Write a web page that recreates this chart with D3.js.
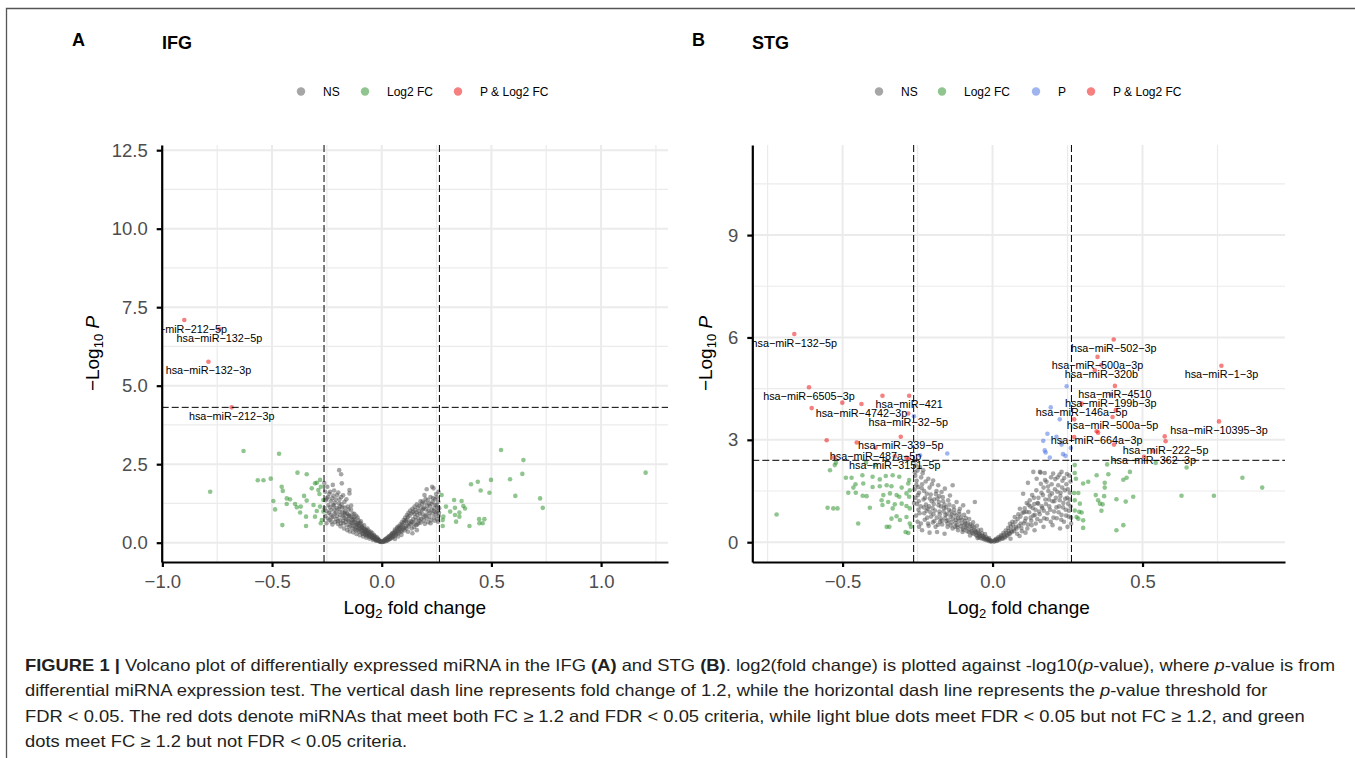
<!DOCTYPE html>
<html><head><meta charset="utf-8">
<script src="https://cdn.jsdelivr.net/npm/d3@7"></script>
<style>body{margin:0;background:#fff}svg{display:block}text{font-family:"Liberation Sans",Arial,sans-serif}</style>
</head><body><svg id="fig" width="1355" height="758"></svg>
<script>
// ---------------- DATA ----------------
const fcCut = 0.263;          // log2(1.2)
const ifgPCut = 4.31;
const stgPCut = 2.40;
const ifgXTicks = [-1.0, -0.5, 0.0, 0.5, 1.0];
const ifgYTicks = [0, 2.5, 5, 7.5, 10, 12.5];
const stgXTicks = [-0.5, 0.0, 0.5];
const stgYTicks = [0, 3, 6, 9];
const ifgLegend = ["NS", "Log2 FC", "P & Log2 FC"];
const stgLegend = ["NS", "Log2 FC", "P", "P & Log2 FC"];

// IFG
const ifgNS = [[-0.262,1.90],[-0.258,1.62],[-0.255,1.35],[-0.260,1.10],[-0.257,0.85],[-0.252,0.62],[-0.248,1.78],[-0.245,1.45],[-0.243,1.20],[-0.240,0.95],[-0.238,0.72],[-0.235,1.62],[-0.232,1.32],[-0.230,1.05],[-0.228,0.80],[-0.225,0.58],[-0.223,1.84],[-0.220,1.50],[-0.218,1.18],[-0.215,0.92],[-0.212,0.66],[-0.210,1.38],[-0.205,1.10],[-0.203,0.84],[-0.200,0.60],[-0.194,2.31],[-0.185,2.18],[-0.182,1.89],[-0.198,1.60],[-0.195,1.25],[-0.192,0.98],[-0.190,0.72],[-0.188,0.52],[-0.185,1.45],[-0.180,1.12],[-0.178,0.85],[-0.175,0.62],[-0.172,0.45],[-0.170,1.30],[-0.166,1.00],[-0.163,0.76],[-0.160,0.56],[-0.157,0.40],[-0.147,1.68],[-0.147,1.57],[-0.155,1.15],[-0.152,0.90],[-0.150,0.68],[-0.148,0.50],[-0.145,0.36],[-0.140,1.05],[-0.137,0.82],[-0.135,0.62],[-0.132,0.46],[-0.130,0.33],[-0.125,0.92],[-0.122,0.72],[-0.120,0.55],[-0.117,0.40],[-0.115,0.28],[-0.110,0.80],[-0.107,0.62],[-0.105,0.47],[-0.102,0.35],[-0.100,0.24],[-0.095,0.68],[-0.092,0.52],[-0.090,0.40],[-0.087,0.30],[-0.085,0.20],[-0.080,0.55],[-0.077,0.43],[-0.075,0.33],[-0.072,0.24],[-0.070,0.16],[-0.065,0.45],[-0.062,0.34],[-0.060,0.26],[-0.057,0.19],[-0.055,0.13],[-0.050,0.35],[-0.047,0.26],[-0.045,0.19],[-0.042,0.14],[-0.040,0.09],[-0.035,0.24],[-0.032,0.17],[-0.030,0.12],[-0.027,0.08],[-0.025,0.06],[-0.020,0.13],[-0.017,0.09],[-0.015,0.06],[-0.010,0.05],[-0.007,0.03],[-0.003,0.02],[-0.215,1.05],[-0.168,0.90],[-0.128,0.66],[-0.098,0.45],[-0.068,0.28],[-0.038,0.15],[-0.250,1.00],[-0.233,0.90],[-0.207,0.75],[-0.176,0.70],[-0.143,0.55],[-0.113,0.50],[-0.083,0.37],[-0.053,0.22],[-0.022,0.10],
[-0.251,1.41],[-0.246,0.77],[-0.239,1.56],[-0.236,1.13],[-0.229,0.67],[-0.226,1.41],[-0.221,0.83],[-0.217,1.66],[-0.213,1.27],[-0.208,0.96],[-0.204,1.52],[-0.199,0.69],[-0.196,1.08],[-0.193,1.37],[-0.189,0.87],[-0.186,0.61],[-0.183,1.22],[-0.179,0.98],[-0.176,1.51],[-0.171,0.79],[-0.169,1.12],[-0.164,0.66],[-0.161,1.38],[-0.158,0.93],[-0.154,0.74],[-0.151,1.06],[-0.146,0.84],[-0.142,0.64],[-0.139,1.18],[-0.136,0.73],[-0.133,0.93],[-0.129,0.53],[-0.126,0.81],[-0.123,0.43],[-0.119,0.64],[-0.116,0.86],[-0.112,0.57],[-0.109,0.41],[-0.106,0.71],[-0.103,0.53],[-0.099,0.63],[-0.096,0.37],[-0.093,0.59],[-0.089,0.47],[-0.086,0.28],[-0.082,0.46],[-0.079,0.36],[-0.076,0.27],[-0.073,0.41],[-0.069,0.34],[-0.066,0.22],[-0.063,0.30],[-0.059,0.38],[-0.056,0.24],[-0.052,0.29],[-0.049,0.18],[-0.046,0.23],[-0.043,0.31],[-0.039,0.20],[-0.036,0.13],[-0.033,0.21],[-0.029,0.15],[-0.026,0.10],[-0.023,0.18],[-0.019,0.07],[-0.016,0.12],[-0.012,0.08],[-0.009,0.04],[-0.005,0.05],[-0.222,1.20],[-0.190,1.15],[-0.170,0.95],[-0.150,0.85],[-0.130,0.75],[-0.110,0.60],[-0.090,0.50],[-0.070,0.40],[-0.060,0.30],
[0.003,0.02],[0.008,0.04],[0.012,0.07],[0.017,0.10],[0.020,0.05],[0.025,0.14],[0.028,0.08],[0.032,0.18],[0.035,0.11],[0.040,0.22],[0.043,0.14],[0.047,0.28],[0.050,0.17],[0.055,0.33],[0.058,0.21],[0.062,0.38],[0.065,0.25],[0.070,0.45],[0.073,0.29],[0.077,0.52],[0.080,0.33],[0.085,0.58],[0.088,0.38],[0.092,0.65],[0.095,0.42],[0.100,0.72],[0.103,0.47],[0.107,0.80],[0.110,0.52],[0.115,0.88],[0.118,0.58],[0.122,0.95],[0.125,0.63],[0.130,1.02],[0.133,0.68],[0.137,0.45],[0.140,1.08],[0.143,0.75],[0.147,0.50],[0.150,1.15],[0.153,0.82],[0.157,0.56],[0.160,1.22],[0.163,0.88],[0.167,0.62],[0.170,1.00],[0.173,0.70],[0.177,1.32],[0.180,0.76],[0.183,1.05],[0.187,1.31],[0.190,0.82],[0.193,1.12],[0.197,0.60],[0.200,1.40],[0.203,0.90],[0.205,1.70],[0.208,1.18],[0.212,0.65],[0.215,1.25],[0.218,0.95],[0.222,1.45],[0.225,0.72],[0.228,1.05],[0.232,1.30],[0.236,1.73],[0.238,0.80],[0.240,1.10],[0.243,1.38],[0.246,0.90],[0.248,1.55],[0.250,1.20],[0.253,0.75],[0.255,1.00],[0.258,1.30],[0.260,0.85],[0.262,1.10],[0.230,1.78],[0.195,1.52],[0.160,0.40],[0.120,0.35],[0.090,0.25],[0.060,0.12],[0.140,0.30],[0.110,0.68],[0.075,0.20],
[0.006,0.05],[0.010,0.03],[0.014,0.09],[0.019,0.12],[0.023,0.07],[0.027,0.16],[0.030,0.11],[0.034,0.21],[0.038,0.13],[0.042,0.25],[0.045,0.19],[0.049,0.31],[0.053,0.22],[0.057,0.29],[0.060,0.42],[0.064,0.31],[0.068,0.36],[0.071,0.49],[0.075,0.38],[0.079,0.44],[0.083,0.47],[0.087,0.51],[0.091,0.35],[0.094,0.58],[0.097,0.49],[0.101,0.63],[0.105,0.39],[0.108,0.71],[0.112,0.45],[0.116,0.74],[0.119,0.82],[0.123,0.52],[0.127,0.86],[0.131,0.59],[0.135,0.93],[0.138,0.66],[0.142,0.98],[0.145,0.61],[0.149,0.92],[0.152,1.04],[0.155,0.71],[0.159,0.97],[0.162,0.58],[0.165,1.11],[0.168,0.77],[0.172,1.18],[0.175,0.92],[0.178,0.64],[0.182,1.22],[0.185,0.93],[0.188,1.08],[0.192,0.71],[0.196,1.27],[0.199,0.85],[0.202,1.06],[0.206,0.77],[0.210,1.35],[0.213,1.02],[0.217,0.83],[0.220,1.16],[0.223,0.62],[0.227,1.24],[0.231,0.93],[0.234,1.42],[0.237,1.01],[0.241,0.70],[0.244,1.21],[0.247,0.97],[0.251,1.44],[0.254,1.12],[0.257,0.67],[0.259,1.62],[0.261,0.95]];
const ifgFC = [[-0.782,1.62],[-0.630,2.92],[-0.468,2.83],[-0.565,1.99],[-0.539,1.99],[-0.506,2.04],[-0.384,2.23],[-0.342,2.18],[-0.456,1.78],[-0.451,1.65],[-0.494,1.33],[-0.486,1.06],[-0.433,1.41],[-0.418,1.38],[-0.433,1.23],[-0.395,1.23],[-0.387,1.13],[-0.369,1.15],[-0.372,0.96],[-0.354,1.49],[-0.342,1.34],[-0.319,1.73],[-0.304,1.89],[-0.281,2.00],[-0.289,1.68],[-0.284,1.55],[-0.311,1.20],[-0.281,1.15],[-0.296,1.01],[-0.304,0.83],[-0.345,0.83],[-0.453,0.56],[-0.345,0.53],[-0.278,0.62],[-0.273,0.72],[-0.266,0.99],[-0.266,1.36],[-0.277,1.78],[-0.296,1.91],
[0.544,2.95],[0.646,2.63],[0.641,2.19],[0.585,2.02],[0.498,2.00],[0.438,1.94],[0.407,1.86],[0.451,1.66],[0.491,1.59],[0.609,1.49],[0.722,1.41],[0.734,1.11],[1.203,2.23],[0.273,1.52],[0.293,1.15],[0.312,0.99],[0.330,1.36],[0.334,1.11],[0.364,1.33],[0.372,1.17],[0.380,1.09],[0.354,0.96],[0.334,0.88],[0.339,0.67],[0.354,0.83],[0.281,0.83],[0.278,0.53],[0.400,0.53],[0.444,0.75],[0.445,0.62],[0.460,0.62],[0.468,0.75],[0.278,0.72]];
const ifgP = [];
const ifgPFC = [[-0.900,7.09,"hsa-miR-212-5p"],[-0.740,6.80,"hsa-miR-132-5p"],[-0.790,5.76,"hsa-miR-132-3p"],[-0.684,4.31,"hsa-miR-212-3p"]];

// STG
const stgNS = [[-0.262,2.38],[-0.256,2.25],[-0.250,2.10],[-0.242,2.20],[-0.258,1.95],[-0.253,1.80],[-0.248,1.62],[-0.245,1.45],[-0.257,1.30],[-0.252,1.12],[-0.247,0.95],[-0.255,0.78],[-0.250,0.60],[-0.245,0.45],[-0.238,1.90],[-0.235,1.70],[-0.231,2.11],[-0.228,1.50],[-0.225,1.30],[-0.222,1.10],[-0.220,0.92],[-0.218,0.72],[-0.215,0.55],[-0.214,1.86],[-0.210,1.60],[-0.206,1.40],[-0.203,1.20],[-0.200,1.00],[-0.198,1.81],[-0.197,0.82],[-0.194,0.62],[-0.190,0.45],[-0.187,1.50],[-0.184,1.28],[-0.181,1.67],[-0.180,1.08],[-0.177,0.90],[-0.173,0.70],[-0.170,1.47],[-0.168,0.52],[-0.165,1.20],[-0.162,1.00],[-0.159,1.57],[-0.157,0.80],[-0.154,0.62],[-0.150,0.45],[-0.148,1.23],[-0.145,0.95],[-0.142,1.37],[-0.140,0.75],[-0.137,0.58],[-0.133,1.67],[-0.133,0.40],[-0.130,1.05],[-0.127,0.85],[-0.123,0.65],[-0.120,1.18],[-0.118,0.50],[-0.115,0.35],[-0.112,0.90],[-0.109,0.98],[-0.106,0.72],[-0.103,0.55],[-0.100,0.40],[-0.098,1.08],[-0.095,0.80],[-0.092,0.62],[-0.088,0.45],[-0.085,0.32],[-0.081,0.89],[-0.078,0.68],[-0.075,0.52],[-0.072,0.38],[-0.068,0.27],[-0.065,0.58],[-0.062,0.44],[-0.059,1.18],[-0.058,0.32],[-0.055,0.22],[-0.052,0.48],[-0.048,0.35],[-0.045,0.25],[-0.042,0.17],[-0.038,0.36],[-0.035,0.26],[-0.032,0.18],[-0.028,0.12],[-0.025,0.24],[-0.022,0.16],[-0.018,0.10],[-0.015,0.07],[-0.012,0.12],[-0.008,0.05],[-0.005,0.03],[-0.235,0.35],[-0.210,0.28],[-0.185,0.30],[-0.160,0.25],[-0.240,1.05],[-0.228,0.85],[-0.205,0.75],[-0.175,0.60],[-0.150,0.55],[-0.125,0.45],[-0.100,0.30],[-0.075,0.20],[-0.050,0.12],[-0.195,1.25],[-0.178,1.35],[-0.160,1.10],[-0.140,0.90],[-0.115,0.70],[-0.090,0.55],[-0.260,1.55],[-0.262,1.15],[-0.230,1.25],[-0.212,1.05],
[-0.259,2.05],[-0.254,1.68],[-0.249,1.38],[-0.246,1.20],[-0.243,0.85],[-0.239,0.55],[-0.236,1.58],[-0.233,2.02],[-0.229,1.02],[-0.226,0.66],[-0.223,1.78],[-0.219,1.42],[-0.216,0.98],[-0.213,0.48],[-0.209,1.28],[-0.207,0.88],[-0.202,1.70],[-0.199,0.58],[-0.196,1.12],[-0.192,0.93],[-0.189,1.41],[-0.186,0.72],[-0.182,0.51],[-0.179,1.18],[-0.176,0.82],[-0.172,1.05],[-0.169,0.63],[-0.166,1.32],[-0.163,0.90],[-0.158,0.70],[-0.155,1.02],[-0.152,0.83],[-0.147,0.64],[-0.144,1.10],[-0.139,0.49],[-0.136,0.81],[-0.132,0.69],[-0.128,0.95],[-0.124,0.56],[-0.121,0.78],[-0.117,0.44],[-0.113,0.62],[-0.110,0.82],[-0.105,0.47],[-0.101,0.66],[-0.097,0.36],[-0.093,0.51],[-0.089,0.71],[-0.086,0.41],[-0.082,0.56],[-0.079,0.30],[-0.076,0.46],[-0.071,0.33],[-0.067,0.48],[-0.064,0.25],[-0.060,0.36],[-0.056,0.29],[-0.053,0.19],[-0.049,0.28],[-0.046,0.14],[-0.043,0.23],[-0.040,0.12],[-0.036,0.19],[-0.033,0.10],[-0.030,0.15],[-0.027,0.08],[-0.023,0.11],[-0.020,0.06],[-0.017,0.09],[-0.013,0.04],[-0.010,0.07],[-0.006,0.02],[-0.003,0.04],
[0.004,0.03],[0.008,0.06],[0.012,0.10],[0.016,0.05],[0.020,0.15],[0.024,0.09],[0.028,0.20],[0.032,0.12],[0.036,0.27],[0.040,0.16],[0.044,0.34],[0.048,0.21],[0.052,0.42],[0.056,0.26],[0.058,0.54],[0.062,0.32],[0.066,0.60],[0.070,0.38],[0.074,0.74],[0.078,0.45],[0.082,0.25],[0.086,0.82],[0.091,0.98],[0.094,0.55],[0.098,0.32],[0.102,1.42],[0.105,0.88],[0.108,0.62],[0.113,0.89],[0.116,0.40],[0.120,1.10],[0.124,1.23],[0.127,0.72],[0.130,0.50],[0.134,1.00],[0.138,1.30],[0.141,0.80],[0.144,0.55],[0.147,1.86],[0.150,1.15],[0.152,1.13],[0.155,0.90],[0.158,2.06],[0.160,0.62],[0.163,1.45],[0.166,1.00],[0.170,1.60],[0.172,0.70],[0.174,2.03],[0.176,1.25],[0.180,1.77],[0.183,0.85],[0.186,1.50],[0.189,1.05],[0.191,1.37],[0.194,0.60],[0.197,1.70],[0.200,1.20],[0.202,2.01],[0.205,0.90],[0.208,1.55],[0.211,1.30],[0.214,0.70],[0.217,1.90],[0.219,1.67],[0.222,1.05],[0.224,1.23],[0.227,1.45],[0.230,2.06],[0.230,0.80],[0.233,1.80],[0.236,1.15],[0.238,0.60],[0.241,1.52],[0.244,0.95],[0.246,1.70],[0.249,1.30],[0.252,1.13],[0.254,0.75],[0.256,1.95],[0.258,1.45],[0.260,1.05],[0.262,0.55],[0.136,2.06],[0.160,2.04],[0.118,1.74],[0.110,0.28],[0.140,0.35],[0.170,0.45],[0.200,0.50],[0.225,0.40],[0.250,0.45],[0.090,0.18],[0.060,0.10],
[0.006,0.02],[0.010,0.07],[0.014,0.04],[0.018,0.11],[0.022,0.07],[0.026,0.13],[0.030,0.17],[0.034,0.10],[0.038,0.22],[0.042,0.14],[0.046,0.27],[0.050,0.19],[0.054,0.33],[0.057,0.24],[0.061,0.45],[0.064,0.29],[0.068,0.51],[0.072,0.33],[0.076,0.60],[0.080,0.40],[0.084,0.68],[0.088,0.48],[0.093,0.75],[0.096,0.42],[0.100,0.86],[0.104,0.55],[0.107,0.99],[0.111,0.70],[0.114,1.15],[0.118,0.52],[0.122,0.88],[0.126,1.05],[0.129,0.63],[0.132,1.38],[0.136,0.78],[0.139,1.12],[0.143,0.95],[0.146,1.52],[0.149,0.68],[0.153,1.30],[0.157,0.82],[0.161,1.71],[0.164,1.05],[0.168,1.38],[0.171,0.92],[0.175,1.82],[0.178,1.12],[0.181,0.68],[0.185,1.63],[0.188,1.25],[0.192,0.95],[0.195,1.90],[0.198,1.43],[0.203,0.72],[0.206,1.20],[0.209,1.85],[0.213,1.02],[0.216,1.48],[0.220,0.88],[0.223,1.98],[0.226,1.35],[0.229,0.66],[0.232,1.60],[0.235,1.02],[0.239,1.88],[0.242,1.27],[0.245,0.78],[0.248,2.00],[0.251,1.55],[0.255,0.92],[0.257,1.25],[0.260,1.78],[0.262,0.72]];
const stgFC = [[-0.526,2.26],[-0.522,2.33],[-0.542,2.11],[-0.422,2.33],[-0.392,2.26],[-0.489,1.89],[-0.470,1.89],[-0.434,1.96],[-0.400,1.92],[-0.376,1.84],[-0.356,1.94],[-0.333,1.96],[-0.311,1.92],[-0.278,1.82],[-0.457,1.70],[-0.431,1.72],[-0.400,1.62],[-0.376,1.64],[-0.353,1.67],[-0.337,1.64],[-0.303,1.60],[-0.281,1.72],[-0.276,1.52],[-0.481,1.45],[-0.464,1.60],[-0.456,1.45],[-0.433,1.36],[-0.420,1.35],[-0.364,1.38],[-0.342,1.43],[-0.320,1.38],[-0.311,1.33],[-0.287,1.43],[-0.278,1.33],[-0.409,1.01],[-0.370,1.23],[-0.367,1.09],[-0.348,1.18],[-0.333,0.99],[-0.326,1.11],[-0.303,1.13],[-0.287,1.06],[-0.276,0.99],[-0.448,0.55],[-0.353,0.45],[-0.344,0.45],[-0.309,0.65],[-0.287,0.74],[-0.276,0.55],[-0.272,0.45],[-0.320,0.76],[-0.337,0.69],[-0.290,0.30],[-0.281,0.27],[-0.720,0.81],[-0.550,1.01],[-0.531,0.99],[-0.517,0.99],
[0.274,2.26],[0.274,2.03],[0.278,1.86],[0.272,1.44],[0.286,1.44],[0.302,1.72],[0.319,1.77],[0.347,1.96],[0.374,1.74],[0.374,1.60],[0.382,2.28],[0.386,1.99],[0.436,1.83],[0.447,1.89],[0.458,2.06],[0.469,1.33],[0.413,1.26],[0.444,1.19],[0.372,1.35],[0.344,1.38],[0.352,1.23],[0.358,1.13],[0.367,1.11],[0.363,0.92],[0.291,1.13],[0.289,0.89],[0.274,0.93],[0.280,0.74],[0.297,0.87],[0.302,0.64],[0.302,0.42],[0.413,0.35],[0.436,0.50],[0.274,1.23],[0.286,0.69],[0.630,1.36],[0.738,1.36],[0.833,1.89],[0.899,1.60],[0.647,2.19],[0.544,2.32]];
const stgP = [[0.247,4.57],[0.194,3.95],[0.224,3.60],[0.183,3.18],[0.169,2.97],[0.174,2.69],[0.177,2.63],[0.191,2.48],[0.230,2.86],[0.235,2.58],[0.243,2.53],[0.261,2.76],[0.213,3.09],[0.230,2.93],[-0.151,2.60],[-0.242,2.55],[-0.262,3.69]];
const stgPFC = [[-0.661,6.10,"hsa-miR-132-5p"],[-0.612,4.54,"hsa-miR-6505-3p"],[-0.437,4.05,"hsa-miR-4742-3p"],[-0.278,4.29,"hsa-miR-421"],[-0.281,3.77,"hsa-miR-32-5p"],[-0.306,3.09,"hsa-miR-339-5p"],[-0.390,2.77,"hsa-miR-487a-5p"],[-0.326,2.52,"hsa-miR-3151-5p"],
[0.404,5.94,"hsa-miR-502-3p"],[0.350,5.43,"hsa-miR-500a-3p"],[0.363,5.19,"hsa-miR-320b"],[0.763,5.17,"hsa-miR-1-3p"],[0.408,4.58,"hsa-miR-4510"],[0.394,4.33,"hsa-miR-199b-3p"],[0.297,4.06,"hsa-miR-146a-5p"],[0.400,3.67,"hsa-miR-500a-5p"],[0.347,3.25,"hsa-miR-664a-3p"],[0.755,3.54,"hsa-miR-10395-3p"],[0.577,2.96,"hsa-miR-222-5p"],[0.536,2.67,"hsa-miR-362-3p"],
[0.341,5.04,""],[0.574,3.10,""],[0.405,2.86,""],[0.272,3.60,""],[0.272,3.08,""],[0.411,3.87,""],[0.352,3.21,""],[0.505,2.50,""],[-0.501,4.09,""],[-0.367,4.29,""],[-0.603,3.93,""],[-0.553,2.99,""],[-0.453,2.92,""],[-0.528,2.48,""],[-0.287,2.48,""],[-0.279,2.44,""]];

const captionLines = [
  [["FIGURE 1 | ","b"],["Volcano plot of differentially expressed miRNA in the IFG ",""],["(A)","b"],[" and STG ",""],["(B)","b"],[". log2(fold change) is plotted against -log10(",""],["p","i"],["-value), where ",""],["p","i"],["-value is from",""]],
  [["differential miRNA expression test. The vertical dash line represents fold change of 1.2, while the horizontal dash line represents the ",""],["p","i"],["-value threshold for",""]],
  [["FDR < 0.05. The red dots denote miRNAs that meet both FC \u2265 1.2 and FDR < 0.05 criteria, while light blue dots meet FDR < 0.05 but not FC \u2265 1.2, and green",""]],
  [["dots meet FC \u2265 1.2 but not FDR < 0.05 criteria.",""]]
];

// ---------------- DRAW ----------------
const COL = {NS:"#4d4d4d", FC:"#228b22", P:"#4169e1", PFC:"#ee0000"};
const ALPHA = 0.5;
const legendCol = {"NS":COL.NS, "Log2 FC":COL.FC, "P":COL.P, "P & Log2 FC":COL.PFC};
const svg = d3.select("#fig");
svg.append("rect").attr("width",1355).attr("height",758).attr("fill","#fff");
svg.append("path").attr("d","M6.5,758 V8.5 H1355").attr("fill","none").attr("stroke","#555").attr("stroke-width",1.3);
const defs = svg.append("defs");

function drawPanel(o){
  const x = d3.scaleLinear().domain(o.xDom).range([o.left,o.right]);
  const y = d3.scaleLinear().domain(o.yDom).range([o.bottom,o.top]);
  defs.append("clipPath").attr("id","clip"+o.id).append("rect")
    .attr("x",o.left).attr("y",o.top).attr("width",o.right-o.left).attr("height",o.bottom-o.top);
  const g = svg.append("g");
  const grid = g.append("g").attr("stroke","#ebebeb");
  const xMin = [], yMin = [];
  for (let i=0;i<o.xTicks.length+1;i++){ const st=o.xTicks[1]-o.xTicks[0]; const v=o.xTicks[0]-st/2+i*st; if(v>o.xDom[0]&&v<o.xDom[1]) xMin.push(v);}
  for (let i=0;i<o.yTicks.length+1;i++){ const st=o.yTicks[1]-o.yTicks[0]; const v=o.yTicks[0]-st/2+i*st; if(v>o.yDom[0]&&v<o.yDom[1]) yMin.push(v);}
  grid.selectAll(".vm").data(xMin).join("line").attr("x1",x).attr("x2",x).attr("y1",o.top).attr("y2",o.bottom).attr("stroke-width",1.2);
  grid.selectAll(".hm").data(yMin).join("line").attr("y1",y).attr("y2",y).attr("x1",o.left).attr("x2",o.right).attr("stroke-width",1.2);
  grid.selectAll(".vM").data(o.xTicks).join("line").attr("x1",x).attr("x2",x).attr("y1",o.top).attr("y2",o.bottom).attr("stroke-width",2);
  grid.selectAll(".hM").data(o.yTicks).join("line").attr("y1",y).attr("y2",y).attr("x1",o.left).attr("x2",o.right).attr("stroke-width",2);

  const pg = g.append("g").attr("clip-path","url(#clip"+o.id+")");
  [[o.ns,COL.NS],[o.fc,COL.FC],[o.p,COL.P],[o.pfc,COL.PFC]].forEach(([arr,c])=>{
    pg.append("g").selectAll("circle").data(arr).join("circle")
      .attr("cx",d=>x(d[0])).attr("cy",d=>y(d[1])).attr("r",2.3)
      .attr("fill",c).attr("fill-opacity",ALPHA);
  });
  const lg = pg.append("g").attr("stroke","#000").attr("stroke-width",1).attr("stroke-dasharray","7,3");
  lg.selectAll(".v").data([-fcCut,fcCut]).join("line").attr("x1",x).attr("x2",x).attr("y1",o.top).attr("y2",o.bottom);
  lg.append("line").attr("x1",o.left).attr("x2",o.right).attr("y1",y(o.pCut)).attr("y2",y(o.pCut));
  pg.append("g").selectAll("text").data(o.pfc.filter(d=>d[2])).join("text")
    .attr("x",d=>x(d[0])).attr("y",d=>y(d[1])+12.5).attr("text-anchor","middle")
    .attr("font-size",10.8).attr("fill","#000").text(d=>d[2].replace(/-/g,"\u2212"));

  const ax = g.append("g").attr("transform",`translate(0,${o.bottom})`)
    .call(d3.axisBottom(x).tickValues(o.xTicks).tickFormat(d3.format(".1f")).tickSize(5).tickSizeOuter(0).tickPadding(8));
  const ay = g.append("g").attr("transform",`translate(${o.left},0)`)
    .call(d3.axisLeft(y).tickValues(o.yTicks).tickFormat(d3.format(o.yFmt)).tickSize(5).tickSizeOuter(0).tickPadding(9));
  [ax,ay].forEach(a=>{
    a.select(".domain").attr("stroke","#000").attr("stroke-width",2.2);
    a.selectAll(".tick line").attr("stroke","#000").attr("stroke-width",2.2);
    a.selectAll(".tick text").attr("font-size",18.5).attr("fill","#4d4d4d").attr("font-family","Liberation Sans, Arial, sans-serif");
  });
  const cx = (o.left+o.right)/2;
  const xt = g.append("text").attr("x",cx).attr("y",614).attr("text-anchor","middle").attr("font-size",19).attr("fill","#000");
  xt.append("tspan").text("Log");
  xt.append("tspan").attr("font-size",13).attr("dy",4).text("2");
  xt.append("tspan").attr("dy",-4).text(" fold change");
  const cy = (o.top+o.bottom)/2;
  const yt = g.append("text").attr("transform",`translate(${o.ytx},${cy}) rotate(-90)`).attr("text-anchor","middle").attr("font-size",19).attr("fill","#000");
  yt.append("tspan").text("\u2212Log");
  yt.append("tspan").attr("font-size",13).attr("dy",4).text("10");
  yt.append("tspan").attr("dy",-4).text(" ");
  yt.append("tspan").attr("font-style","italic").text("P");

  g.append("text").attr("x",o.letterX).attr("y",46).attr("font-size",18).attr("font-weight","bold").text(o.letter);
  g.append("text").attr("x",o.titleX).attr("y",49).attr("font-size",18).attr("font-weight","bold").text(o.title);

  const leg = g.append("g");
  o.legend.forEach((name,i)=>{
    leg.append("circle").attr("cx",o.legX[i]).attr("cy",91.5).attr("r",4.2).attr("fill",legendCol[name]).attr("fill-opacity",ALPHA);
    leg.append("text").attr("x",o.legX[i]+22).attr("y",95.5).attr("font-size",12).attr("fill","#000").text(name);
  });
}

drawPanel({id:"A", left:161.7, right:668, top:145, bottom:562, xDom:[-1.003,1.305], yDom:[-0.615,12.665],
  xTicks:ifgXTicks, yTicks:ifgYTicks, yFmt:".1f", ns:ifgNS, fc:ifgFC, p:ifgP, pfc:ifgPFC, pCut:ifgPCut,
  ytx:99, letter:"A", letterX:72, title:"IFG", titleX:162, legend:ifgLegend, legX:[301,365,458]});
drawPanel({id:"B", left:752.3, right:1285, top:145, bottom:562, xDom:[-0.801,0.975], yDom:[-0.58,11.64],
  xTicks:stgXTicks, yTicks:stgYTicks, yFmt:"d", ns:stgNS, fc:stgFC, p:stgP, pfc:stgPFC, pCut:stgPCut,
  ytx:712, letter:"B", letterX:692, title:"STG", titleX:752, legend:stgLegend, legX:[879,942,1036,1091]});

// caption: one common horizontal compression so that line 1 spans the reference width
const capY = [671, 696, 722, 747];
const capTexts = captionLines.map((line,i)=>{
  const t = svg.append("text").attr("x",25).attr("y",capY[i]).attr("font-size",16.5).attr("fill","#231f20")
    .attr("font-family","'Liberation Sans Narrow','Arial Narrow','Liberation Sans',sans-serif");
  line.forEach(([s,st])=>{
    const ts = t.append("tspan").text(s);
    if(st==="b") ts.attr("font-weight","bold");
    if(st==="i") ts.attr("font-style","italic");
  });
  return t;
});
const nat = capTexts.map(t=>t.node().getComputedTextLength());
const k = 1310 / nat[0];
capTexts.forEach((t,i)=>t.attr("textLength",nat[i]*k).attr("lengthAdjust","spacingAndGlyphs"));
</script></body></html>
